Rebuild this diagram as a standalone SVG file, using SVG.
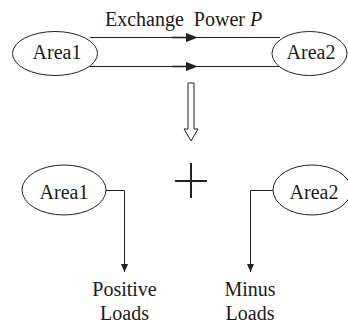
<svg xmlns="http://www.w3.org/2000/svg" width="348" height="323" viewBox="0 0 348 323">
<style>
.t{font-family:'Liberation Serif','Times New Roman',serif;font-size:20px;fill:#1a1a1a}
.n{fill:#fff;stroke:#222;stroke-width:1}
.l{fill:none;stroke:#222;stroke-width:1}
.h{fill:#222;stroke:none}
</style>
<defs>
<marker id="ah" markerWidth="8" markerHeight="10" refX="8" refY="5" orient="auto" markerUnits="userSpaceOnUse">
<path d="M0,1.5 L8,5 L0,8.5 Z" fill="#222"/>
</marker>
</defs>
<rect width="348" height="323" fill="#fff"/>
<g id="connectors">
<line class="l" x1="90" y1="37.5" x2="280" y2="37.5"/>
<line class="l" x1="90" y1="66.5" x2="280" y2="66.5"/>
<line x1="172" y1="37.5" x2="190" y2="37.5" stroke="#222" stroke-width="1.6"/>
<line x1="172" y1="66.5" x2="190" y2="66.5" stroke="#222" stroke-width="1.6"/>
<path class="h" d="M186,33 L198,37.5 L186,42 Z"/>
<path class="h" d="M186,62 L198,66.5 L186,71 Z"/>
<path class="l" d="M105,190.5 H124.5 V272" marker-end="url(#ah)"/>
<path class="l" d="M274,190.5 H250.5 V272" marker-end="url(#ah)"/>
</g>
<g id="area1-top">
<ellipse class="n" cx="55" cy="53.5" rx="42.5" ry="22"/>
<text class="t" x="57" y="59" text-anchor="middle">Area1</text>
</g>
<g id="area2-top">
<ellipse class="n" cx="309.5" cy="53.5" rx="37.5" ry="22"/>
<text class="t" x="311" y="59" text-anchor="middle">Area2</text>
</g>
<g id="title">
<text class="t" x="105" y="26" xml:space="preserve">Exchange  Power <tspan font-style="italic">P</tspan></text>
</g>
<g id="transform-arrow">
<path d="M188,83 H194 V129 H198 L191,141 L184,129 H188 Z" fill="#fff" stroke="#222" stroke-width="1"/>
</g>
<g id="plus">
<line x1="191" y1="163" x2="191" y2="198" stroke="#222" stroke-width="2"/>
<line x1="175" y1="181" x2="207" y2="181" stroke="#222" stroke-width="2"/>
</g>
<g id="area1-bottom">
<ellipse class="n" cx="64" cy="190" rx="42" ry="25"/>
<text class="t" x="64" y="199" text-anchor="middle">Area1</text>
</g>
<g id="area2-bottom">
<ellipse class="n" cx="312" cy="190" rx="39" ry="25"/>
<text class="t" x="314" y="199" text-anchor="middle">Area2</text>
</g>
<g id="positive-loads">
<text class="t" x="124.5" y="296" text-anchor="middle">Positive</text>
<text class="t" x="124.5" y="320" text-anchor="middle">Loads</text>
</g>
<g id="minus-loads">
<text class="t" x="250" y="296" text-anchor="middle">Minus</text>
<text class="t" x="250" y="320" text-anchor="middle">Loads</text>
</g>
</svg>
